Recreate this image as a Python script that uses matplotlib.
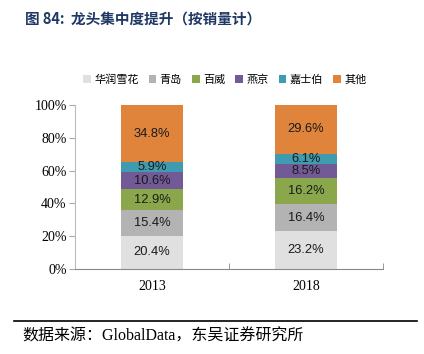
import matplotlib.pyplot as plt
import numpy as np

plt.rcParams['font.family'] = ['Noto Sans CJK SC', 'DejaVu Sans']

years = ['2013', '2018']
brands = ['华润雪花', '青岛', '百威', '燕京', '嘉士伯', '其他']
shares = {
    '华润雪花': [20.4, 23.2],
    '青岛': [15.4, 16.4],
    '百威': [12.9, 16.2],
    '燕京': [10.6, 8.5],
    '嘉士伯': [5.9, 6.1],
    '其他': [34.8, 29.6],
}
colors = ['#E0E0E0', '#B3B3B3', '#8AA84B', '#725A96', '#3F9BB0', '#E0843C']

fig = plt.figure(figsize=(4.24, 3.54), dpi=100)
ax = fig.add_axes([0.177, 0.240, 0.726, 0.463])

x = np.arange(len(years))
bottom = np.zeros(len(years))
for name, c in zip(brands, colors):
    vals = np.array(shares[name])
    ax.bar(x, vals, 0.4, bottom=bottom, color=c, label=name, linewidth=0)
    for xi, b, v in zip(x, bottom, vals):
        ax.text(xi, b + v / 2, f'{v:.1f}%', ha='center', va='center',
                fontsize=9.3, family='Liberation Sans', color='#1a1a1a')
    bottom += vals

ax.set_xlim(-0.5, 1.5)
ax.set_ylim(0, 100)
ax.set_yticks(np.arange(0, 101, 20))
ax.set_yticklabels([f'{v}%' for v in range(0, 101, 20)], family='Liberation Serif', fontsize=10)
ax.set_xticks(x)
ax.set_xticklabels(years, family='Liberation Serif', fontsize=10)
ax.tick_params(axis='x', length=0, pad=8)
ax.set_xticks([-0.5, 0.5, 1.5], minor=True)
ax.tick_params(axis='x', which='minor', direction='in', length=4, color='#888888')
ax.tick_params(axis='y', length=4, color='#aaaaaa', pad=2)
for s in ['top', 'right']:
    ax.spines[s].set_visible(False)
ax.spines['left'].set_color('#bbbbbb')
ax.spines['bottom'].set_color('#888888')

fig.legend(loc='center', bbox_to_anchor=(0.53, 0.774), ncol=6, frameon=False,
           fontsize=8, handlelength=0.7, handleheight=0.7, handletextpad=0.3,
           columnspacing=0.9)

fig.text(0.06, 0.948, '图 84:  龙头集中度提升（按销量计）', fontsize=10.5,
         fontweight='bold', color='#1F3864', va='center')
fig.add_artist(plt.Line2D([0.033, 0.983], [0.093, 0.093], color='black', lw=1.2))
fig.text(0.052, 0.048, '数据来源：GlobalData，东吴证券研究所', fontsize=11.5,
         family=['Liberation Serif', 'Noto Sans CJK SC'], va='center')

fig.savefig('out.png', dpi=100)
